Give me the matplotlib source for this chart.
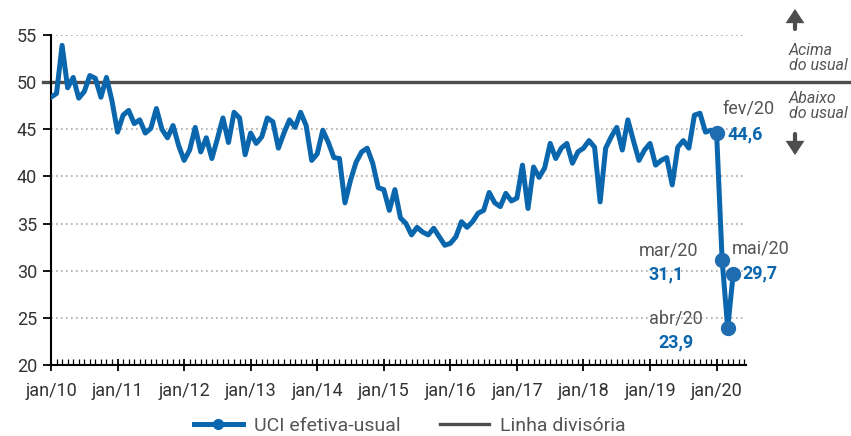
import matplotlib

matplotlib.use("Agg")
import matplotlib.pyplot as plt
from matplotlib.patches import FancyArrowPatch
from matplotlib.ticker import FixedLocator, MultipleLocator

# Monthly series, first point at the jan/10 tick, last four are fev/20..mai/20
uci_values = [
    48.4, 48.8, 53.9, 49.4, 50.5, 48.3, 49.0, 50.7, 50.4, 48.4, 50.5, 48.0,
    44.7, 46.5, 47.0, 45.6, 46.0, 44.6, 45.1, 47.2, 45.0, 44.1, 45.4, 43.3,
    41.7, 42.8, 45.2, 42.6, 44.1, 41.9, 44.0, 46.2, 43.6, 46.8, 46.2, 42.3,
    44.6, 43.5, 44.2, 46.2, 45.8, 43.0, 44.6, 46.0, 45.2, 46.8, 45.4, 41.7,
    42.4, 44.9, 43.6, 42.0, 41.9, 37.2, 39.6, 41.5, 42.6, 43.0, 41.4, 38.8,
    38.6, 36.4, 38.6, 35.6, 35.0, 33.8, 34.6, 34.1, 33.8, 34.5, 33.6, 32.7,
    32.9, 33.6, 35.2, 34.6, 35.2, 36.1, 36.4, 38.3, 37.2, 36.8, 38.2, 37.4,
    37.7, 41.2, 36.6, 41.0, 39.9, 40.9, 43.5, 41.9, 43.0, 43.5, 41.4, 42.6,
    43.0, 43.8, 43.1, 37.3, 43.0, 44.2, 45.2, 42.8, 46.0, 43.8, 41.7, 42.8,
    43.5, 41.2, 41.7, 42.0, 39.1, 43.1, 43.8, 43.0, 46.5, 46.7, 44.7, 44.9,
    44.6, 31.1, 23.9, 29.7,
]
highlight_labels = ["fev/20", "mar/20", "abr/20", "mai/20"]
tick_labels = ["jan/10", "jan/11", "jan/12", "jan/13", "jan/14", "jan/15",
               "jan/16", "jan/17", "jan/18", "jan/19", "jan/20"]
y_ticks = [20, 25, 30, 35, 40, 45, 50, 55]
divider = 50

BLUE = "#0a66ad"
GRAY = "#4d4d4d"
TEXT = "#333333"
FS = 13

plt.rcParams["font.family"] = ["Roboto", "DejaVu Sans"]

W, H = 851, 436
fig = plt.figure(figsize=(W / 100, H / 100), dpi=100)
ax = fig.add_axes([51 / W, 1 - 365 / H, (746 - 51) / W, (365 - 35) / H])

months = list(range(len(uci_values)))

for y in y_ticks:
    if y != divider and y != 20:
        ax.axhline(y, color="#aaaaaa", lw=1.2, ls=(0, (1, 2)), zorder=1)

# divider line runs across the whole figure width
ax.plot([-1.5, 144], [divider, divider], color=GRAY, lw=2.4, clip_on=False,
        zorder=2, label="Linha divisória")

ax.plot(months, uci_values, color=BLUE, lw=3.6, solid_joinstyle="round",
        zorder=3)
n_hl = len(highlight_labels)
ax.plot(months[-n_hl:], uci_values[-n_hl:], "o", color="#1f6db0", ms=10,
        zorder=4)
# legend proxy
ax.plot([], [], color=BLUE, lw=3.6, marker="o", ms=7, label="UCI efetiva-usual")

ax.set_xlim(0, 125.3)
ax.set_ylim(20, 55)
ax.xaxis.set_major_locator(FixedLocator([12 * k for k in range(len(tick_labels))]))
ax.set_xticklabels(tick_labels)
ax.xaxis.set_minor_locator(MultipleLocator(1))
ax.set_yticks(y_ticks)

for side in ["top", "right"]:
    ax.spines[side].set_visible(False)
for side in ["left", "bottom"]:
    ax.spines[side].set_linewidth(1.5)
    ax.spines[side].set_color("black")

ax.tick_params(axis="x", which="major", direction="inout", length=9, width=1.3,
               labelsize=FS, labelcolor=TEXT, pad=8)
ax.tick_params(axis="x", which="minor", direction="in", length=4, width=0.9)
ax.tick_params(axis="y", which="major", direction="out", length=6, width=1.3,
               labelsize=FS, labelcolor=TEXT, pad=4)

# point annotations: (label offset, value offset, value alignment)
ann = [
    ((32, 25), (11, -1), "left"),
    ((-54, 10), (-56, -14), "center"),
    ((-52, 10), (-52, -14), "center"),
    ((27, 25), (9, 0), "left"),
]
for k, (lbl, (lo, vo, ha)) in enumerate(zip(highlight_labels, ann)):
    i = len(uci_values) - n_hl + k
    v = uci_values[i]
    ax.annotate(lbl, (i, v), xytext=lo, textcoords="offset pixels",
                ha="center", va="center", fontsize=FS, color="#555555",
                annotation_clip=False, zorder=5)
    ax.annotate(f"{v:.1f}".replace(".", ","), (i, v), xytext=vo,
                textcoords="offset pixels", ha=ha, va="center", fontsize=FS,
                fontweight="bold", color=BLUE, annotation_clip=False, zorder=5)


def fx(x, y):
    return x / W, 1 - y / H


fig.text(*fx(789, 58), "Acima\ndo usual", ha="left", va="center",
         fontsize=11.5, style="italic", color="#555555", linespacing=1.0)
fig.text(*fx(789, 106), "Abaixo\ndo usual", ha="left", va="center",
         fontsize=11.5, style="italic", color="#555555", linespacing=1.0)
for start, end in [((795, 29), (795, 9)), ((795, 134), (795, 155))]:
    fig.add_artist(FancyArrowPatch(
        fx(*start), fx(*end), transform=fig.transFigure,
        arrowstyle="-|>,head_length=6,head_width=4", mutation_scale=1,
        shrinkA=0, shrinkB=0, color=GRAY, lw=3, joinstyle="miter"))

handles, labels = ax.get_legend_handles_labels()
order = [labels.index("UCI efetiva-usual"), labels.index("Linha divisória")]
fig.legend([handles[o] for o in order], [labels[o] for o in order],
           loc="center", bbox_to_anchor=fx(410, 426), ncol=2, frameon=False,
           fontsize=14, labelcolor="#555555", handlelength=2.5,
           columnspacing=2.0, handletextpad=0.6)

fig.savefig("out.png", dpi=100)
